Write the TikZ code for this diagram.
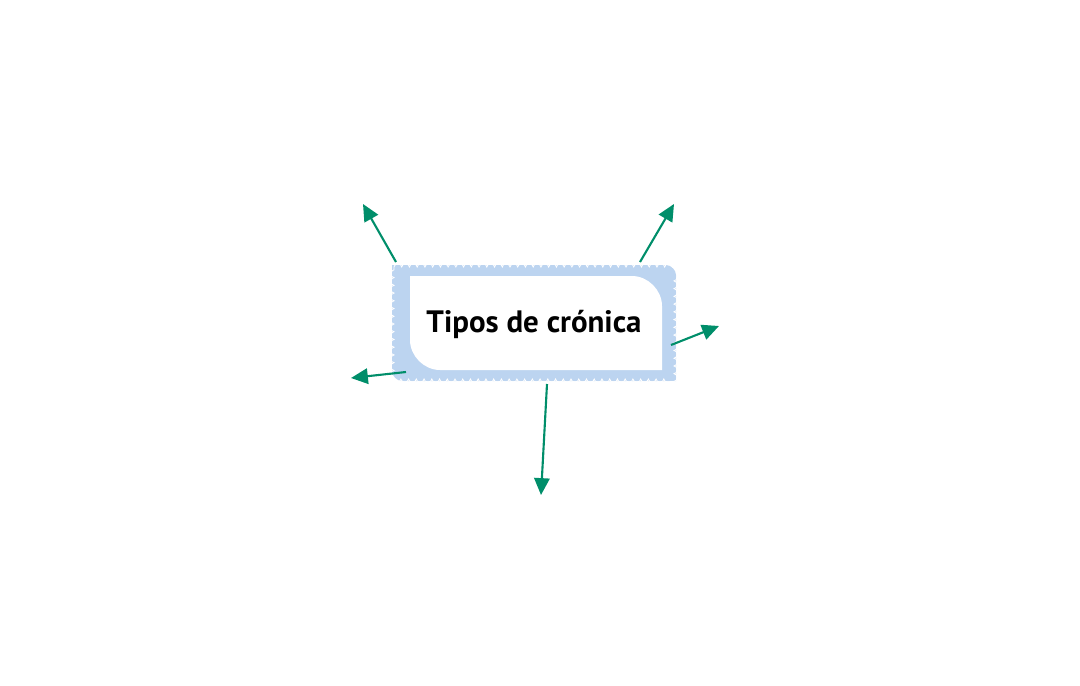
\documentclass[tikz,border=0pt]{standalone}
\usepackage{fontspec}
\setsansfont{PT Sans}
\usetikzlibrary{arrows.meta,decorations.pathmorphing}
\definecolor{frameblue}{RGB}{188,212,240}
\definecolor{arrowgreen}{RGB}{0,142,106}

\begin{document}
\begin{tikzpicture}[x=0.025cm,y=-0.025cm,
    arrowline/.style={draw=arrowgreen,line width=1.5pt,-{Triangle[length=12pt,width=11pt]}},
    scallop/.style={draw=white,line width=0.6pt,decorate,decoration={bumps,segment length=11pt,amplitude=2.2pt}}]
    \useasboundingbox (0,0) rectangle (1080,685);

    % Outer frame
    \fill[frameblue] (392,265) -- (666,265) .. controls (671,265) and (676,270) .. (676,275)
        -- (676,381) -- (402,381) .. controls (397,381) and (392,376) .. (392,371) -- cycle;
    \draw[scallop] (394,267) -- (674,267) -- (674,379) -- (394,379) -- cycle;

    % Inner panel
    \fill[white] (410,276) -- (632,276) .. controls (648,276) and (662,290) .. (662,306)
        -- (662,370) -- (440,370) .. controls (424,370) and (410,356) .. (410,340) -- cycle;

    % Title
    \node[font=\sffamily\bfseries\fontsize{22}{26}\selectfont] (title) at (534,324) {Tipos de crónica};

    % Arrow ends
    \coordinate (tlstart) at (396,262);  \coordinate (tlend) at (363,204);
    \coordinate (trstart) at (640,262);  \coordinate (trend) at (674,204);
    \coordinate (rstart) at (671,345);   \coordinate (rend) at (719,326);
    \coordinate (lstart) at (406,372);   \coordinate (lend) at (351,378);
    \coordinate (bstart) at (547,384);   \coordinate (bend) at (541,495);

    % Arrows
    \draw[arrowline] (tlstart) -- (tlend);
    \draw[arrowline] (trstart) -- (trend);
    \draw[arrowline] (rstart) -- (rend);
    \draw[arrowline] (lstart) -- (lend);
    \draw[arrowline] (bstart) -- (bend);
\end{tikzpicture}
\end{document}
